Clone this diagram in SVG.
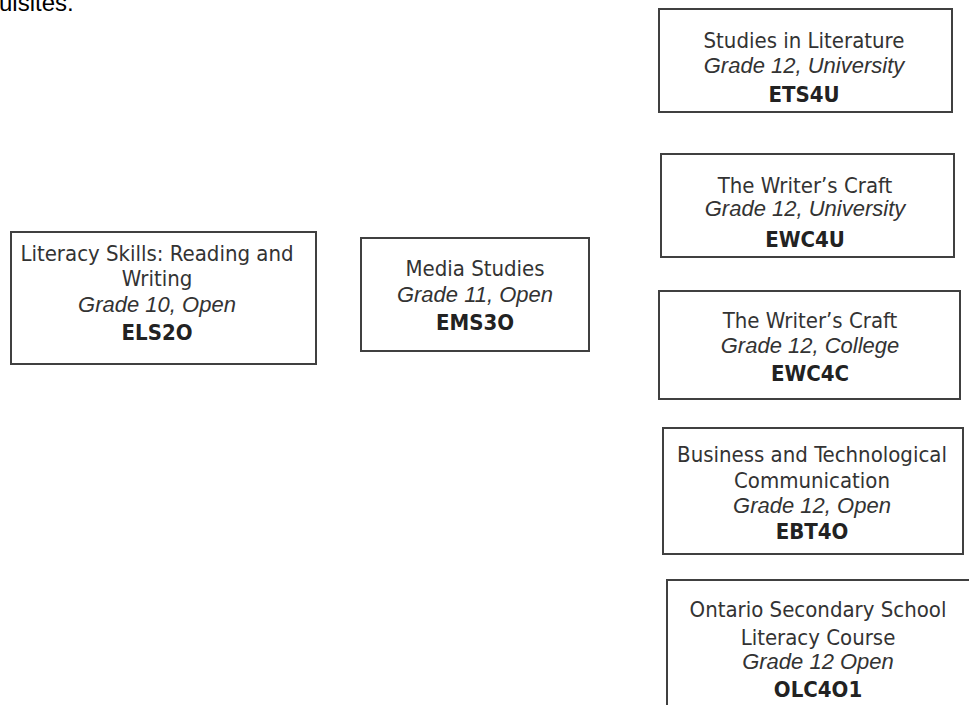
<svg xmlns="http://www.w3.org/2000/svg" width="969" height="705" viewBox="0 0 969 705">
<style>
.box{fill:#fff;stroke:#404040;stroke-width:2}
.t{font-family:"DejaVu Sans Condensed","DejaVu Sans",sans-serif;font-size:22px;fill:#333;text-anchor:middle}
.i{font-family:"Liberation Sans",Arial,sans-serif;font-style:italic;font-size:22px;fill:#333;text-anchor:middle}
.b{font-family:"DejaVu Sans Condensed","DejaVu Sans",sans-serif;font-weight:bold;font-size:22px;fill:#222;text-anchor:middle}
.h{font-family:"Liberation Sans",Arial,sans-serif;font-size:24px;fill:#000}
</style>
<rect width="969" height="705" fill="#fff"/>
<text class="h" x="-1" y="11">uisites.</text>
<g id="connectors"></g>
<g id="ELS2O">
<rect class="box" x="11" y="232" width="305" height="132"/>
<text class="t" x="157" y="261">Literacy Skills: Reading and</text>
<text class="t" x="157" y="286">Writing</text>
<text class="i" x="157" y="312">Grade 10, Open</text>
<text class="b" x="157" y="340">ELS2O</text>
</g>
<g id="EMS3O">
<rect class="box" x="361" y="238" width="228" height="113"/>
<text class="t" x="475" y="276">Media Studies</text>
<text class="i" x="475" y="302">Grade 11, Open</text>
<text class="b" x="475" y="330">EMS3O</text>
</g>
<g id="ETS4U">
<rect class="box" x="659" y="9" width="293" height="103"/>
<text class="t" x="804" y="48">Studies in Literature</text>
<text class="i" x="804" y="73">Grade 12, University</text>
<text class="b" x="804" y="102">ETS4U</text>
</g>
<g id="EWC4U">
<rect class="box" x="661" y="154" width="293" height="103"/>
<text class="t" x="805" y="193">The Writer’s Craft</text>
<text class="i" x="805" y="216">Grade 12, University</text>
<text class="b" x="805" y="247">EWC4U</text>
</g>
<g id="EWC4C">
<rect class="box" x="659" y="291" width="301" height="108"/>
<text class="t" x="810" y="328">The Writer’s Craft</text>
<text class="i" x="810" y="353">Grade 12, College</text>
<text class="b" x="810" y="381">EWC4C</text>
</g>
<g id="EBT4O">
<rect class="box" x="663" y="428" width="300" height="126"/>
<text class="t" x="812" y="462">Business and Technological</text>
<text class="t" x="812" y="488">Communication</text>
<text class="i" x="812" y="513">Grade 12, Open</text>
<text class="b" x="812" y="539">EBT4O</text>
</g>
<g id="OLC4O1">
<rect class="box" x="667" y="580" width="330" height="150"/>
<text class="t" x="818" y="617">Ontario Secondary School</text>
<text class="t" x="818" y="645">Literacy Course</text>
<text class="i" x="818" y="669">Grade 12 Open</text>
<text class="b" x="818" y="697">OLC4O1</text>
</g>
</svg>
